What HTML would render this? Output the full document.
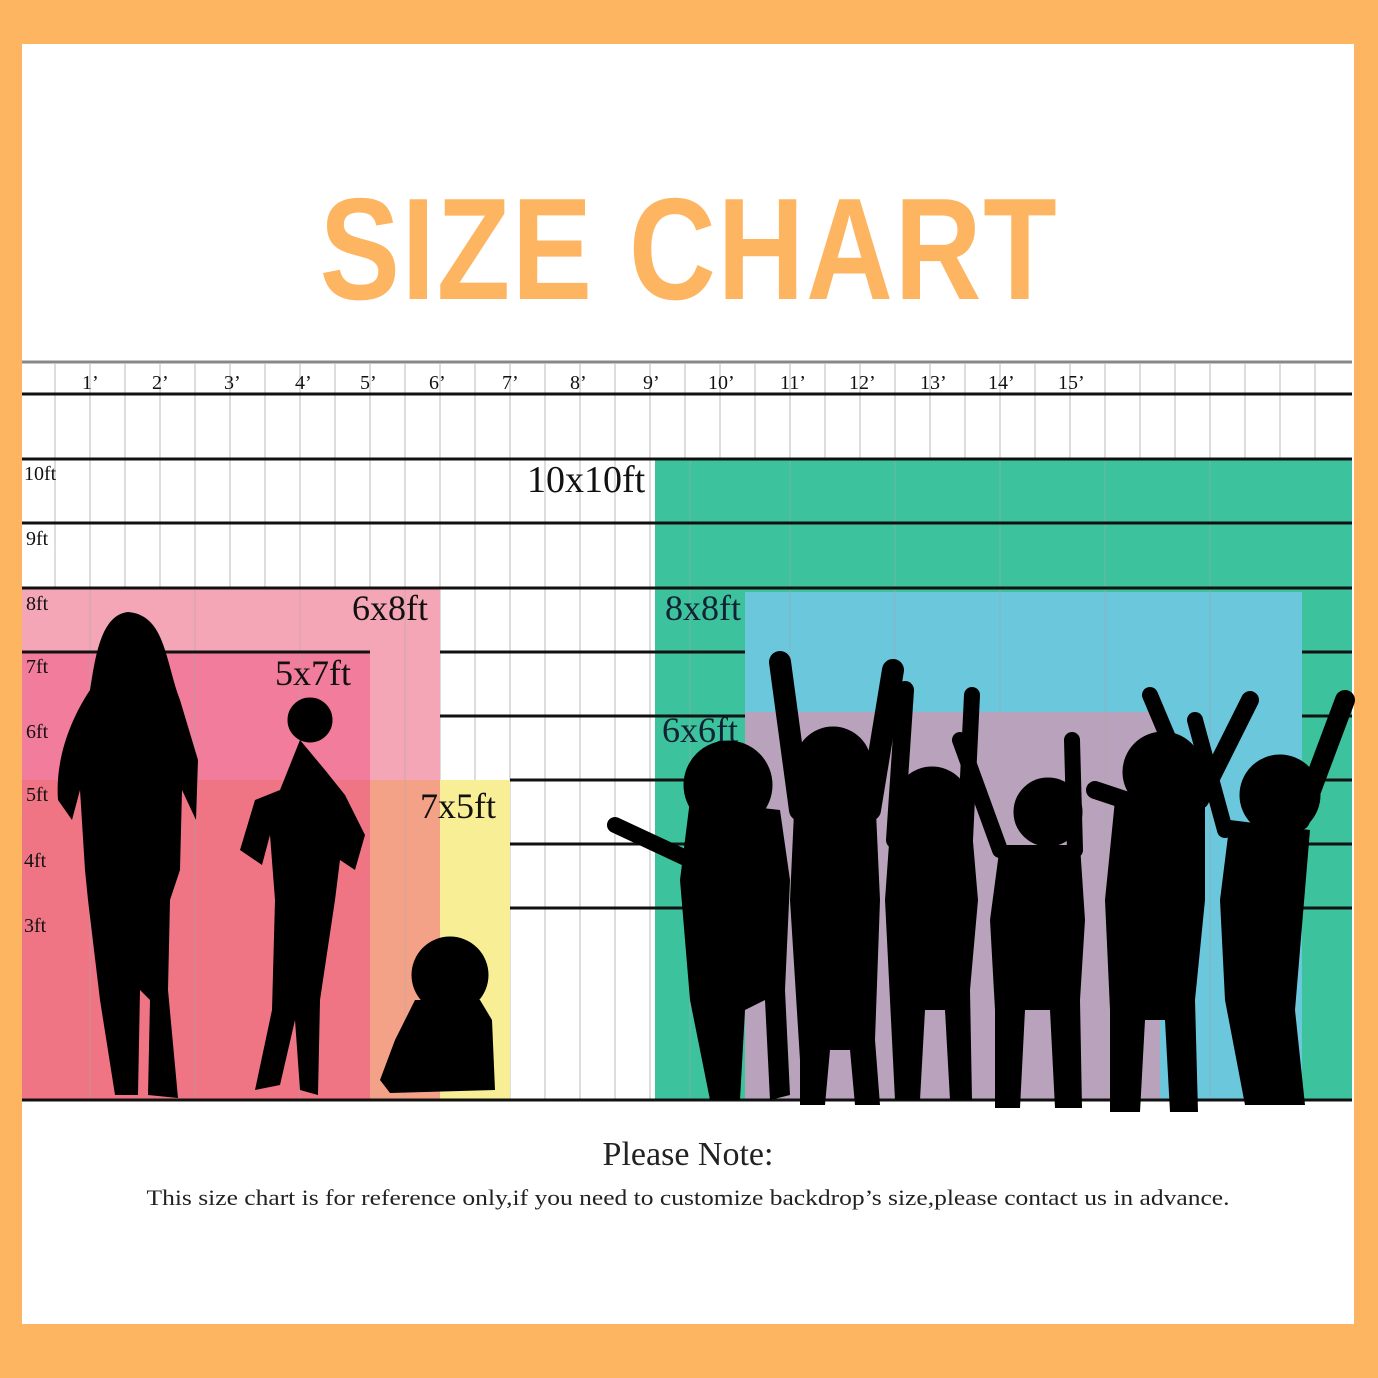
<!DOCTYPE html>
<html><head><meta charset="utf-8"><style>
html,body{margin:0;padding:0}
body{width:1378px;height:1378px;background:#FDB562;position:relative;overflow:hidden}
.w{position:absolute;left:22px;top:44px;width:1332px;height:1280px;background:#fff}
.t{position:absolute;left:0;top:166px;width:1378px;text-align:center;font-family:"Liberation Sans",sans-serif;font-weight:bold;font-size:145px;color:#FDB562;transform:scaleX(0.83);letter-spacing:2px}
svg{position:absolute;left:0;top:0}
</style></head><body>
<div class="w"></div>
<div class="t">SIZE CHART</div>
<svg width="1378" height="1378" viewBox="0 0 1378 1378">
<g id="grid" stroke="#ddd" stroke-width="2">
<line x1="55" y1="364" x2="55" y2="1100"/><line x1="90" y1="364" x2="90" y2="1100"/><line x1="125" y1="364" x2="125" y2="1100"/><line x1="160" y1="364" x2="160" y2="1100"/><line x1="195" y1="364" x2="195" y2="1100"/><line x1="230" y1="364" x2="230" y2="1100"/><line x1="265" y1="364" x2="265" y2="1100"/><line x1="300" y1="364" x2="300" y2="1100"/><line x1="335" y1="364" x2="335" y2="1100"/><line x1="370" y1="364" x2="370" y2="1100"/><line x1="405" y1="364" x2="405" y2="1100"/><line x1="440" y1="364" x2="440" y2="1100"/><line x1="475" y1="364" x2="475" y2="1100"/><line x1="510" y1="364" x2="510" y2="1100"/><line x1="545" y1="364" x2="545" y2="1100"/><line x1="580" y1="364" x2="580" y2="1100"/><line x1="615" y1="364" x2="615" y2="1100"/><line x1="650" y1="364" x2="650" y2="1100"/><line x1="685" y1="364" x2="685" y2="1100"/><line x1="720" y1="364" x2="720" y2="1100"/><line x1="755" y1="364" x2="755" y2="1100"/><line x1="790" y1="364" x2="790" y2="1100"/><line x1="825" y1="364" x2="825" y2="1100"/><line x1="860" y1="364" x2="860" y2="1100"/><line x1="895" y1="364" x2="895" y2="1100"/><line x1="930" y1="364" x2="930" y2="1100"/><line x1="965" y1="364" x2="965" y2="1100"/><line x1="1000" y1="364" x2="1000" y2="1100"/><line x1="1035" y1="364" x2="1035" y2="1100"/><line x1="1070" y1="364" x2="1070" y2="1100"/><line x1="1105" y1="364" x2="1105" y2="1100"/><line x1="1140" y1="364" x2="1140" y2="1100"/><line x1="1175" y1="364" x2="1175" y2="1100"/><line x1="1210" y1="364" x2="1210" y2="1100"/><line x1="1245" y1="364" x2="1245" y2="1100"/><line x1="1280" y1="364" x2="1280" y2="1100"/><line x1="1315" y1="364" x2="1315" y2="1100"/>
</g>
<rect x="22" y="588" width="418" height="512" fill="#F5A6B6"/>
<rect x="22" y="652" width="348" height="128" fill="#F27C9C"/>
<rect x="22" y="780" width="348" height="320" fill="#EF7584"/>
<rect x="370" y="780" width="70" height="320" fill="#F4A287"/>
<rect x="440" y="780" width="70" height="320" fill="#F8EE96"/>
<rect x="655" y="459" width="697" height="641" fill="#3CC39D"/>
<rect x="745" y="592" width="557" height="508" fill="#6AC7DC"/>
<rect x="745" y="712" width="415" height="388" fill="#B9A2BB"/>
<g stroke="#aaa" stroke-width="1.5" opacity="0.35">
<line x1="690" y1="459" x2="690" y2="1100"/><line x1="790" y1="459" x2="790" y2="1100"/><line x1="895" y1="459" x2="895" y2="1100"/><line x1="1000" y1="459" x2="1000" y2="1100"/><line x1="1105" y1="459" x2="1105" y2="1100"/><line x1="1210" y1="459" x2="1210" y2="1100"/><line x1="90" y1="588" x2="90" y2="1100"/><line x1="195" y1="588" x2="195" y2="1100"/><line x1="300" y1="588" x2="300" y2="1100"/><line x1="405" y1="588" x2="405" y2="1100"/>
</g>
<line x1="22" y1="362" x2="1352" y2="362" stroke="#888" stroke-width="3"/>
<g stroke="#111" stroke-width="3">
<line x1="22" y1="394" x2="1352" y2="394"/><line x1="22" y1="459" x2="1352" y2="459"/><line x1="22" y1="523" x2="1352" y2="523"/><line x1="22" y1="588" x2="1352" y2="588"/>
<line x1="22" y1="652" x2="370" y2="652"/><line x1="440" y1="652" x2="745" y2="652"/><line x1="1302" y1="652" x2="1352" y2="652"/>
<line x1="440" y1="716" x2="745" y2="716"/><line x1="1302" y1="716" x2="1352" y2="716"/>
<line x1="510" y1="780" x2="745" y2="780"/><line x1="1302" y1="780" x2="1352" y2="780"/>
<line x1="510" y1="844" x2="745" y2="844"/><line x1="1302" y1="844" x2="1352" y2="844"/>
<line x1="510" y1="908" x2="745" y2="908"/><line x1="1302" y1="908" x2="1352" y2="908"/>
<line x1="22" y1="1100" x2="1352" y2="1100"/>
</g>
<g font-family="Liberation Serif,serif" font-size="20" fill="#111">
<text x="82" y="389">1’</text><text x="152" y="389">2’</text><text x="224" y="389">3’</text><text x="295" y="389">4’</text><text x="360" y="389">5’</text><text x="429" y="389">6’</text><text x="502" y="389">7’</text><text x="570" y="389">8’</text><text x="643" y="389">9’</text><text x="708" y="389">10’</text><text x="780" y="389">11’</text><text x="849" y="389">12’</text><text x="920" y="389">13’</text><text x="988" y="389">14’</text><text x="1058" y="389">15’</text>
<text x="24" y="480">10ft</text><text x="26" y="545">9ft</text><text x="26" y="610">8ft</text><text x="26" y="673">7ft</text><text x="26" y="738">6ft</text><text x="26" y="801">5ft</text><text x="24" y="867">4ft</text><text x="24" y="932">3ft</text>
</g>
<g font-family="Liberation Serif,serif" font-size="36" fill="#111">
<text x="527" y="492" font-size="38">10x10ft</text><text x="352" y="620">6x8ft</text><text x="275" y="685">5x7ft</text><text x="420" y="818">7x5ft</text>
<text x="665" y="620" fill="#123">8x8ft</text><text x="662" y="742" fill="#123">6x6ft</text>
</g>
<g fill="#000" stroke="#000" stroke-linecap="round" stroke-linejoin="round">
<path d="M128 612 C100 615 95 660 90 690 C70 720 55 760 58 800 L72 820 L80 790 L85 870 L88 900 L100 1000 L115 1095 L138 1095 L140 990 L150 1000 L148 1095 L178 1098 L168 990 L170 900 L180 870 L182 790 L196 820 L198 760 L180 700 C165 660 165 615 128 612Z" stroke="none"/>
<circle cx="310" cy="720" r="22"/>
<path d="M300 740 L280 790 L255 800 L240 850 L262 865 L270 835 L275 900 L272 1010 L255 1090 L280 1085 L295 1020 L300 1090 L318 1095 L320 1000 L335 900 L340 860 L355 870 L365 835 L345 795 L325 770 Z" stroke="none"/>
<circle cx="450" cy="975" r="38"/>
<path d="M415 1000 L395 1040 L380 1080 L390 1093 L495 1090 L492 1020 L480 1000Z" stroke="none"/>
<circle cx="728" cy="785" r="44"/>
<path d="M690 800 L680 880 L690 1000 L710 1100 L740 1100 L745 1010 L765 1000 L770 1100 L790 1095 L785 990 L790 880 L780 810Z" stroke="none"/>
<line x1="690" y1="860" x2="615" y2="825" stroke-width="16"/>
<circle cx="833" cy="765" r="38"/>
<path d="M795 790 L790 900 L800 1060 L800 1105 L825 1105 L830 1050 L850 1050 L855 1105 L880 1105 L875 1040 L880 900 L875 790Z" stroke="none"/>
<line x1="800" y1="810" x2="780" y2="662" stroke-width="22"/>
<line x1="870" y1="810" x2="893" y2="670" stroke-width="22"/>
<circle cx="932" cy="805" r="38"/>
<path d="M890 830 L885 900 L890 1000 L895 1100 L920 1100 L925 1010 L945 1010 L950 1100 L972 1100 L970 990 L978 900 L972 830Z" stroke="none"/>
<line x1="895" y1="840" x2="905" y2="690" stroke-width="18"/>
<line x1="965" y1="840" x2="972" y2="695" stroke-width="16"/>
<circle cx="1048" cy="812" r="34"/>
<path d="M1000 845 L990 920 L995 1010 L995 1108 L1020 1108 L1025 1010 L1050 1010 L1055 1108 L1082 1108 L1080 1000 L1085 920 L1080 845Z" stroke="none"/>
<line x1="1000" y1="850" x2="960" y2="740" stroke-width="16"/>
<line x1="1075" y1="850" x2="1072" y2="740" stroke-width="16"/>
<circle cx="1163" cy="772" r="40"/>
<path d="M1115 800 L1105 900 L1110 1010 L1110 1112 L1140 1112 L1145 1020 L1165 1020 L1170 1112 L1198 1112 L1195 1000 L1205 900 L1205 800Z" stroke="none"/>
<line x1="1125" y1="800" x2="1095" y2="790" stroke-width="18"/>
<line x1="1190" y1="790" x2="1150" y2="695" stroke-width="16"/>
<line x1="1200" y1="800" x2="1250" y2="700" stroke-width="18"/>
<circle cx="1280" cy="795" r="40"/>
<path d="M1230 820 L1220 900 L1225 1000 L1245 1105 L1305 1105 L1295 1010 L1305 890 L1310 830Z" stroke="none"/>
<line x1="1300" y1="820" x2="1345" y2="700" stroke-width="20"/>
<line x1="1225" y1="830" x2="1195" y2="720" stroke-width="16"/>
</g>
<text x="688" y="1165" text-anchor="middle" font-family="Liberation Serif,serif" font-size="34" fill="#222">Please Note:</text>
<text x="688" y="1205" text-anchor="middle" font-family="Liberation Serif,serif" font-size="22" fill="#222" textLength="1083" lengthAdjust="spacingAndGlyphs">This size chart is for reference only,if you need to customize backdrop’s size,please contact us in advance.</text>
</svg>
</body></html>
